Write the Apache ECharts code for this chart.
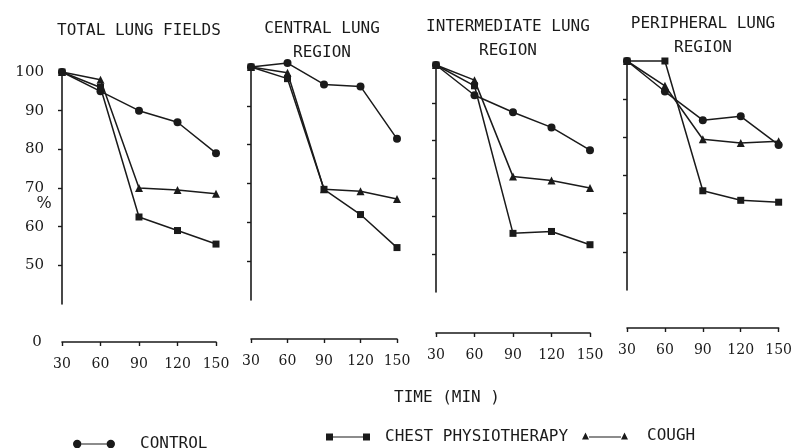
<!DOCTYPE html>
<html>
<head>
<meta charset="utf-8">
<script src="https://cdn.jsdelivr.net/npm/echarts@6/dist/echarts.min.js"></script>
<style>
  html, body { margin: 0; padding: 0; background: #fff; }
  #main { width: 795px; height: 448px; }
</style>
</head>
<body>
<div id="main"></div>
<script>
// time points (min)
var times = [30, 60, 90, 120, 150]
var yTicks = [50, 60, 70, 80, 90, 100]

// % of initial counts
var controlTotal = [100, 95, 90, 87, 79]
var chestTotal = [100, 96, 62.5, 59, 55.5]
var coughTotal = [100, 98, 70, 69.5, 68.5]

var controlCentral = [100, 101, 95.5, 95, 81.5]
var chestCentral = [100, 97, 68.5, 62, 53.5]
var coughCentral = [100, 98.5, 68.5, 68, 66]

var controlInter = [100, 92, 87.5, 83.5, 77.5]
var chestInter = [100, 94.5, 55.5, 56, 52.5]
var coughInter = [100, 96, 70.5, 69.5, 67.5]

var controlPeri = [100, 92, 84.5, 85.5, 78]
var chestPeri = [100, 100, 66, 63.5, 63]
var coughPeri = [100, 93.5, 79.5, 78.5, 79]

var panelTitles = ['TOTAL LUNG FIELDS', 'CENTRAL LUNG\nREGION', 'INTERMEDIATE LUNG\nREGION', 'PERIPHERAL LUNG\nREGION']
var panelData = [
    [controlTotal, chestTotal, coughTotal],
    [controlCentral, chestCentral, coughCentral],
    [controlInter, chestInter, coughInter],
    [controlPeri, chestPeri, coughPeri]
]
var seriesNames = ['CONTROL', 'CHEST PHYSIOTHERAPY', 'COUGH']

// layout (scanned figure is slightly rotated, so every panel sits a little differently)
var gridLeft = [62, 251, 436, 627]
var gridTop = [72, 67, 65, 61]
var gridWidth = [154, 146, 154, 153]
var gridHeight = [232, 233, 227, 229]
var xOffset = [38, 39, 41, 38]
var titleX = [139, 322, 508, 703]
var titleY = [19, 17, 15, 12]

var ink = '#1a1a1a'
var mono = '"DejaVu Sans Mono", monospace'
var serif = '"DejaVu Serif", serif'
var symbols = ['circle', 'rect', 'triangle']
var symbolSizes = [8, 7, 8]

var chart = echarts.init(document.getElementById('main'))

var grids = [], xAxes = [], yAxes = [], series = [], graphics = []

for (var i = 0; i < 4; i++) {
    grids.push({ left: gridLeft[i], top: gridTop[i], width: gridWidth[i], height: gridHeight[i] })
    xAxes.push({
        type: 'value', gridIndex: i, min: 30, max: 150, interval: 30,
        offset: xOffset[i],
        axisLine: { lineStyle: { color: ink, width: 1.6 } },
        axisTick: { show: true, length: 4, lineStyle: { color: ink, width: 1.4 } },
        axisLabel: { color: ink, fontFamily: serif, fontSize: 14, margin: 15 },
        splitLine: { show: false }
    })
    yAxes.push({
        type: 'value', gridIndex: i, min: 40, max: 100,
        axisLine: { show: true, lineStyle: { color: ink, width: 1.6 } },
        axisTick: { show: true, length: 4, customValues: yTicks, lineStyle: { color: ink, width: 1.4 } },
        axisLabel: { show: i === 0, customValues: yTicks, color: ink, fontFamily: serif, fontSize: 15, margin: 18 },
        splitLine: { show: false }
    })
    for (var s = 0; s < 3; s++) {
        series.push({
            name: seriesNames[s], type: 'line',
            xAxisIndex: i, yAxisIndex: i,
            data: times.map(function (t, k) { return [t, panelData[i][s][k]] }),
            symbol: symbols[s], symbolSize: symbolSizes[s], showAllSymbol: true,
            clip: false, animation: false,
            itemStyle: { color: ink },
            lineStyle: { color: ink, width: 1.5 }
        })
    }
    graphics.push({
        type: 'text', x: titleX[i], y: titleY[i],
        style: { text: panelTitles[i], align: 'center', verticalAlign: 'top', fill: ink, font: '16px ' + mono, lineHeight: 24 }
    })
}

graphics.push(
    { type: 'text', x: 44, y: 204, style: { text: '%', align: 'center', verticalAlign: 'middle', fill: ink, font: '16px ' + serif } },
    { type: 'text', x: 37, y: 342, style: { text: '0', align: 'center', verticalAlign: 'middle', fill: ink, font: '15px ' + serif } },
    { type: 'text', x: 447, y: 398, style: { text: 'TIME (MIN )', align: 'center', verticalAlign: 'middle', fill: ink, font: '16px ' + mono } }
)

var legendIcons = [
    'path://M0,4.5a4,4 0 1,0 8,0a4,4 0 1,0 -8,0zM8,4h24v1h-24zM32,4.5a4,4 0 1,0 8,0a4,4 0 1,0 -8,0z',
    'path://M0,1h7v7h-7zM7,4h30v1h-30zM37,1h7v7h-7z',
    'path://M0,8l3.5,-7l3.5,7zM7,5h32v1h-32zM39,8l3.5,-7l3.5,7z'
]
var legendLeft = [73, 326, 582]
var legendTop = [436, 429, 428]
var legendWidth = [42, 44, 46]
var legendPad = [20, 10, 14]

var legends = seriesNames.map(function (name, k) {
    return {
        data: [name], left: legendLeft[k], top: legendTop[k], padding: 0,
        icon: legendIcons[k], itemWidth: legendWidth[k], itemHeight: 9,
        selectedMode: false,
        textStyle: { color: ink, fontFamily: mono, fontSize: 16, padding: [0, 0, 0, legendPad[k]] }
    }
})

chart.setOption({
    animation: false,
    grid: grids,
    xAxis: xAxes,
    yAxis: yAxes,
    legend: legends,
    graphic: graphics,
    series: series
})
</script>
</body>
</html>
